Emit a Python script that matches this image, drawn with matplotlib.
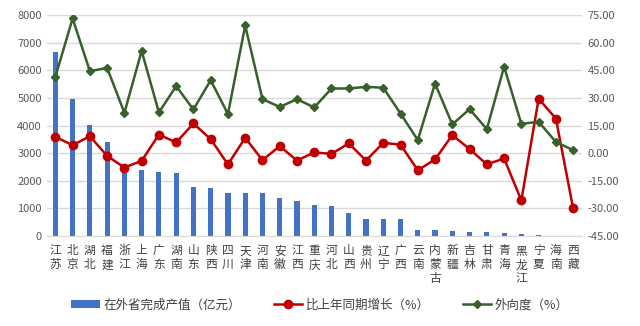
import numpy as np
import matplotlib.pyplot as plt
from matplotlib.ticker import FormatStrFormatter

plt.rcParams['font.family'] = ['Noto Sans CJK SC', 'DejaVu Sans']

provinces = ['江苏', '北京', '湖北', '福建', '浙江', '上海', '广东', '湖南', '山东', '陕西',
             '四川', '天津', '河南', '安徽', '江西', '重庆', '河北', '山西', '贵州', '辽宁',
             '广西', '云南', '内蒙古', '新疆', '吉林', '甘肃', '青海', '黑龙江', '宁夏', '海南', '西藏']
output = [6650, 4960, 4020, 3420, 2500, 2390, 2330, 2270, 1760, 1730,
          1570, 1570, 1550, 1360, 1260, 1110, 1090, 850, 620, 620,
          610, 220, 200, 190, 150, 150, 110, 70, 40, 10, 5]
growth = [8.9, 4.3, 9.2, -1.5, -7.8, -4.2, 10.1, 5.8, 16.1, 7.6,
          -6.1, 8.3, -3.8, 3.8, -4.0, 0.4, -0.4, 5.3, -4.0, 5.6,
          4.6, -9.3, -3.4, 9.8, 2.2, -6.1, -2.9, -25.7, 29.5, 18.8, -30.0]
openness = [41.4, 73.1, 44.5, 46.3, 21.9, 55.5, 22.1, 36.4, 23.7, 39.6,
            21.2, 69.3, 29.3, 25.1, 29.3, 24.8, 35.1, 35.1, 36.0, 35.5,
            21.5, 7.1, 37.8, 15.6, 23.9, 13.0, 46.9, 15.9, 17.0, 6.1, 1.6]

x = np.arange(len(provinces))
labels = ['\n'.join(p) for p in provinces]

fig = plt.figure(figsize=(6.4, 3.26), dpi=100)
ax = fig.add_axes([0.073, 0.276, 0.836, 0.678])
ax2 = ax.twinx()

bars = ax.bar(x, output, width=0.3, color='#4472C4', label='在外省完成产值（亿元）', zorder=2)
l1, = ax2.plot(x, growth, color='#C00000', lw=1.8, marker='o', ms=6,
               label='比上年同期增长（%）')
l2, = ax2.plot(x, openness, color='#38602B', lw=1.8, marker='D', ms=4.5,
               label='外向度（%）')

ax.set_xlim(-0.5, len(x) - 0.5)
ax.set_ylim(0, 8000)
ax.set_yticks(range(0, 8001, 1000))
ax2.set_ylim(-45, 75)
ax2.set_yticks(range(-45, 76, 15))
ax2.yaxis.set_major_formatter(FormatStrFormatter('%.2f'))

ax.grid(axis='y', color='#D9D9D9', lw=1, zorder=0)
ax.set_axisbelow(True)
ax.set_xticks(x)
ax.set_xticklabels(labels, fontsize=8.5, color='#404040', linespacing=1.1, va='top')

for a in (ax, ax2):
    for s in a.spines.values():
        s.set_visible(False)
    a.tick_params(length=0, labelsize=8, labelcolor='#595959')
ax.spines['bottom'].set_visible(True)
ax.spines['bottom'].set_color('#D9D9D9')
ax.tick_params(axis='x', pad=6, labelsize=8.5, labelcolor='#404040')
ax2.tick_params(axis='y', pad=4)

fig.legend([bars, l1, l2], [bars.get_label(), l1.get_label(), l2.get_label()],
           loc='center', bbox_to_anchor=(0.5, 0.065), ncol=3, frameon=False,
           fontsize=9, handlelength=2.3, handletextpad=0.3, columnspacing=2.6,
           labelcolor='#404040')

fig.savefig('out.png', dpi=100)
